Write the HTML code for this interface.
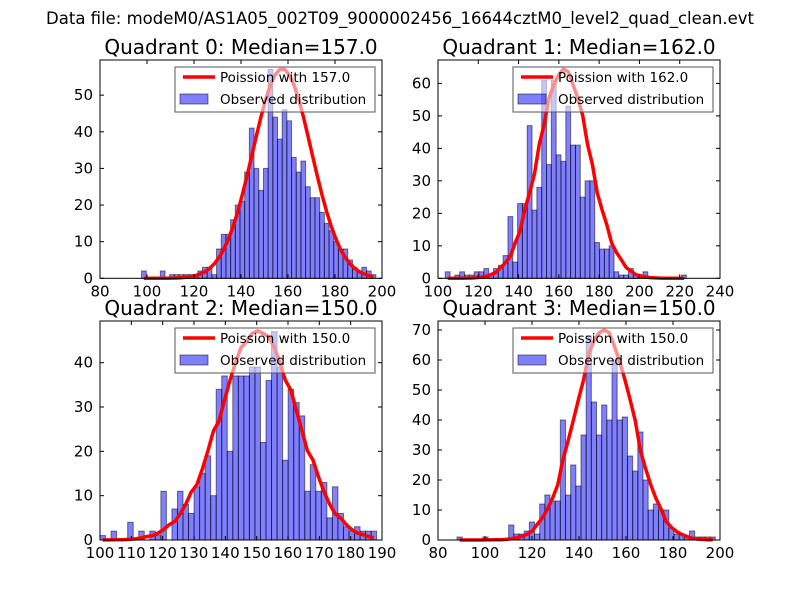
<!DOCTYPE html>
<html><head><meta charset="utf-8"><style>
body{margin:0;background:#fff}
svg{display:block;font-family:"DejaVu Sans","Liberation Sans",sans-serif}
</style></head><body>
<svg id="chart" width="800" height="600" viewBox="0 0 800 600">
<rect width="800" height="600" fill="#fff"/>
<text x="400" y="24" font-size="16.5" text-anchor="middle">Data file: modeM0/AS1A05_002T09_9000002456_16644cztM0_level2_quad_clean.evt</text>
</svg>
<script>
// ---- data ----
const quadNames = ["Quadrant 0","Quadrant 1","Quadrant 2","Quadrant 3"];
const medians = [157.0, 162.0, 150.0, 150.0];
const counts0 = [2,0,0,0,2,0,1,1,1,1,1,1,2,3,3,1,8,12,12,16,20,21,29,41,30,24,30,57,44,38,46,43,33,29,32,25,22,22,18,15,13,10,8,8,5,3,2,3,2,1];
const counts1 = [2,0,1,2,1,1,2,2,3,1,3,4,7,19,5,23,23,47,21,28,61,35,61,38,36,53,41,41,25,30,30,11,9,9,10,2,1,1,3,1,1,2,0,0,0,0,0,0,0,1];
const counts2 = [1,0,2,0,0,4,0,2,0,2,1,11,0,7,11,8,6,12,15,19,10,34,37,20,37,37,37,39,39,22,36,47,39,18,34,31,28,11,17,11,13,5,12,6,3,2,3,2,2,2];
const counts3 = [1,0,0,0,0,1,0,0,0,0,5,2,2,3,6,2,12,15,13,13,40,15,25,18,35,68,46,35,45,40,60,40,41,28,23,36,20,10,12,10,10,4,2,2,1,3,1,1,1,1];
const binStart = [97.7, 103.6, 100.0, 88.1];
const binEnd = [197.4, 223.3, 188.3, 198.0];
const curvePeaks = [57.2, 64.4, 47.2, 70.0];
const xTicks0 = [80,100,120,140,160,180,200];
const xTicks1 = [100,120,140,160,180,200,220,240];
const xTicks2 = [100,110,120,130,140,150,160,170,180,190];
const xTicks3 = [80,100,120,140,160,180,200];
const yTicks0 = [0,10,20,30,40,50];
const yTicks1 = [0,10,20,30,40,50,60];
const yTicks2 = [0,10,20,30,40];
const yTicks3 = [0,10,20,30,40,50,60,70];
const xDomains = [[80,200],[100,240],[100,190],[80,200]];
const yMax = [59.6, 67.2, 49.4, 73.0];

const allCounts=[counts0,counts1,counts2,counts3];
const allXT=[xTicks0,xTicks1,xTicks2,xTicks3];
const allYT=[yTicks0,yTicks1,yTicks2,yTicks3];
const boxes=[[100,60,382,278.3],[438,60,720,278.3],[100,321,382,540],[438,321,720,540]];
const NS="http://www.w3.org/2000/svg";
const svg=document.getElementById('chart');
function mk(tag,attrs,parent){const e=document.createElementNS(NS,tag);for(const k in attrs)e.setAttribute(k,attrs[k]);(parent||svg).appendChild(e);return e;}

for(let q=0;q<4;q++){
  const [L,T,R,B]=boxes[q];
  const [x0,x1]=xDomains[q];
  const xs=v=>L+(v-x0)/(x1-x0)*(R-L);
  const ys=v=>B-v/yMax[q]*(B-T);
  const g=mk('g',{});
  
  
  const counts=allCounts[q];
  const n=counts.length, bw=(binEnd[q]-binStart[q])/n;
  counts.forEach((c,i)=>{
    if(c<=0)return;
    const a=binStart[q]+i*bw;
    const r=mk('rect',{x:xs(a),y:ys(c),width:xs(a+bw)-xs(a),height:B-ys(c),fill:'#0000ff','fill-opacity':0.5,stroke:'#000','stroke-opacity':0.5,'stroke-width':1},g);
    
    
  });
  const mu=medians[q], sd=Math.sqrt(mu);
  let pts=[];
  for(let i=0;i<n;i++){
    const x=binStart[q]+(i+0.5)*bw;
    const k=Math.floor(x);
    const v=curvePeaks[q]*Math.exp(-((k-mu)*(k-mu))/(2*sd*sd));
    pts.push(xs(x).toFixed(1)+','+ys(v).toFixed(1));
  }
  const pl=mk('polyline',{points:pts.join(' '),fill:'none',stroke:'#ff0000','stroke-width':3.5,'stroke-linejoin':'round'},g);
  
  
  const fr=mk('rect',{x:L,y:T,width:R-L,height:B-T,fill:'none',stroke:'#000','stroke-width':1},g);
  
  
  allXT[q].forEach(t=>{
    const x=xs(t);
    mk('line',{x1:x,y1:B,x2:x,y2:B-4,stroke:'#000'},g);
    mk('line',{x1:x,y1:T,x2:x,y2:T+4,stroke:'#000'},g);
    const tx=mk('text',{x:x,y:B+18,'font-size':15,'text-anchor':'middle'},g);
    tx.textContent=t;
    
    
  });
  allYT[q].forEach(t=>{
    const y=ys(t);
    mk('line',{x1:L,y1:y,x2:L+4,y2:y,stroke:'#000'},g);
    mk('line',{x1:R,y1:y,x2:R-4,y2:y,stroke:'#000'},g);
    const tx=mk('text',{x:L-7,y:y+5,'font-size':15,'text-anchor':'end'},g);
    tx.textContent=t;
    
    
  });
  const ti=mk('text',{x:(L+R)/2,y:T-6,'font-size':20,'text-anchor':'middle'},g);
  ti.textContent=quadNames[q]+': Median='+medians[q].toFixed(1);
  
  
  const lg=mk('g',{},g);
  
  
  const lx=R-207, ly=T+7;
  mk('rect',{x:lx,y:ly,width:200,height:45,fill:'#fff','fill-opacity':0.55,stroke:'#555','stroke-width':1},lg);
  mk('line',{x1:lx+8,y1:ly+10,x2:lx+40,y2:ly+10,stroke:'#ff0000','stroke-width':3.5},lg);
  const t1=mk('text',{x:lx+45,y:ly+15,'font-size':13.5},lg);
  t1.textContent='Poission with '+medians[q].toFixed(1);
  
  
  mk('rect',{x:lx+5,y:ly+27,width:28,height:10,fill:'#0000ff','fill-opacity':0.5,stroke:'#000','stroke-opacity':0.5},lg);
  const t2=mk('text',{x:lx+45,y:ly+37,'font-size':13.5},lg);
  t2.textContent='Observed distribution';
  
  
}
</script>
</body></html>
